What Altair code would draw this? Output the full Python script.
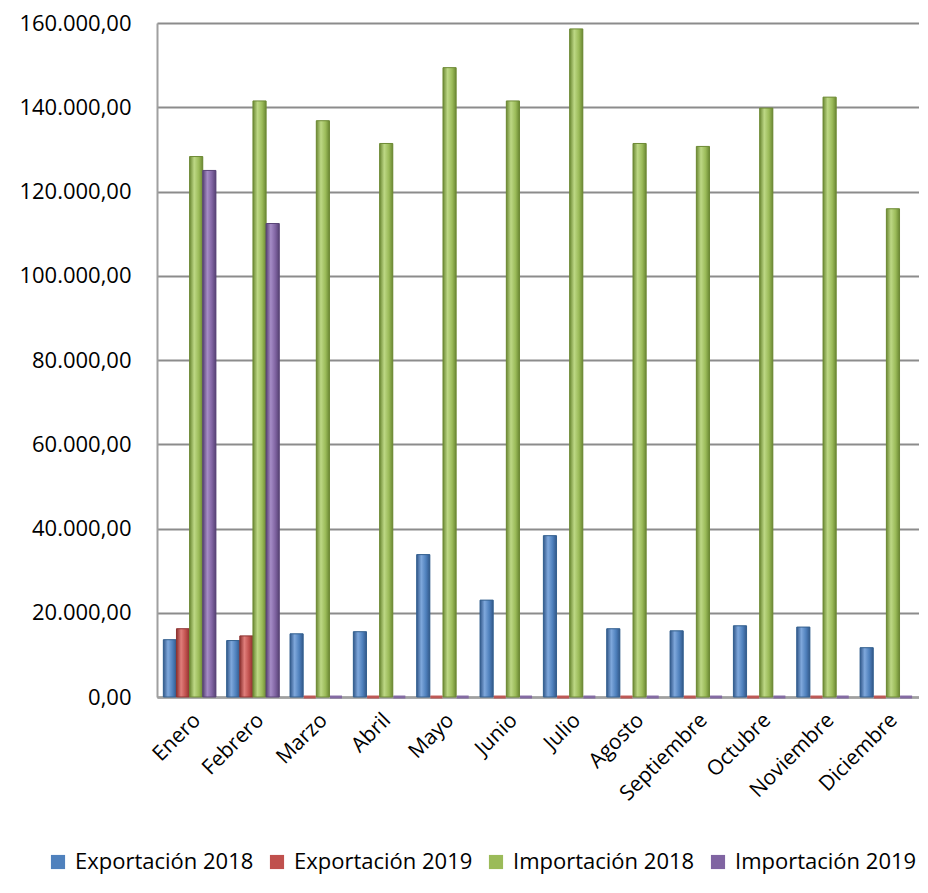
import altair as alt
import pandas as pd

months = ["Enero", "Febrero", "Marzo", "Abril", "Mayo", "Junio", "Julio",
          "Agosto", "Septiembre", "Octubre", "Noviembre", "Diciembre"]
series = ["Exportación 2018", "Exportación 2019", "Importación 2018", "Importación 2019"]

exp2018 = [13600, 13400, 15000, 15500, 33800, 23000, 38300, 16200, 15700, 16900, 16600, 11700]
exp2019 = [16200, 14500, 0, 0, 0, 0, 0, 0, 0, 0, 0, 0]
imp2018 = [128300, 141500, 136800, 131400, 149400, 141500, 158600, 131400, 130700, 139800, 142400, 115900]
imp2019 = [125000, 112400, 0, 0, 0, 0, 0, 0, 0, 0, 0, 0]

colors = ["#4F81BD", "#C0504D", "#9BBB59", "#8064A2"]
strokes = ["#35618F", "#8E3533", "#6E8A36", "#5A4578"]
lights = ["#7FA8DC", "#E07E7B", "#BDD885", "#A58CC6"]
darks = ["#32588A", "#8A302E", "#6B8833", "#574274"]

rows = []
for s, vals in zip(series, [exp2018, exp2019, imp2018, imp2019]):
    for m, v in zip(months, vals):
        rows.append({"mes": m, "serie": s, "valor": v})
df = pd.DataFrame(rows)

FONT = "Open Sans"

x_enc = alt.X(
    "mes:N", sort=months, title=None,
    scale=alt.Scale(paddingInner=0.17, paddingOuter=0.1),
    axis=alt.Axis(labelAngle=-45, labelFontSize=21, labelColor="black", labelFont=FONT,
                  ticks=False, domainColor="#A0A0A0", domainWidth=2.5, labelPadding=12,
                  labelAlign="right", labelBaseline="top"),
)
xo_enc = alt.XOffset("serie:N", sort=series, scale=alt.Scale(domain=series, paddingInner=0.0))
y_enc = alt.Y(
    "valor:Q", title=None,
    scale=alt.Scale(domain=[0, 160000]),
    axis=alt.Axis(values=[0, 20000, 40000, 60000, 80000, 100000, 120000, 140000, 160000],
                  labelExpr="replace(replace(replace(format(datum.value, ',.2f'), ',', '#'), '.', ','), '#', '.')",
                  labelFontSize=22, labelColor="black", labelFont=FONT, labelPadding=26,
                  ticks=False, domainColor="#A0A0A0", domainWidth=2,
                  gridColor="#8C8C8C", gridWidth=2, minExtent=149, maxExtent=149),
)
color_enc = alt.Color(
    "serie:N", sort=series, scale=alt.Scale(domain=series, range=colors),
    legend=alt.Legend(orient="none", legendX=-110, legendY=828,
                      direction="horizontal", title=None,
                      symbolType="square", symbolSize=200, symbolStrokeWidth=0,
                      labelFontSize=22, labelFont=FONT, labelColor="black",
                      labelLimit=400, columnPadding=12, labelOffset=6),
)

base_bars = alt.Chart(df).mark_bar().encode(
    x=x_enc, xOffset=xo_enc, y=y_enc, color=color_enc
)

layers = [base_bars]
for s, c, st, lt, dk in zip(series, colors, strokes, lights, darks):
    grad = alt.Gradient(
        gradient="linear", x1=0, x2=1, y1=0, y2=0,
        stops=[alt.GradientStop(color=dk, offset=0),
               alt.GradientStop(color=lt, offset=0.35),
               alt.GradientStop(color=c, offset=0.7),
               alt.GradientStop(color=dk, offset=1)],
    )
    layers.append(
        alt.Chart(df).transform_filter(alt.datum.serie == s).transform_filter("datum.valor > 0")
        .mark_bar(fill=grad, stroke=st, strokeWidth=1)
        .encode(x=x_enc, xOffset=xo_enc, y=y_enc)
    )

zeros = alt.Chart(df).transform_filter("datum.valor == 0").mark_tick(
    thickness=3, size=12, opacity=0.9
).encode(
    x=x_enc, xOffset=xo_enc, y=y_enc, color=alt.Color("serie:N", sort=series, legend=None)
)
layers.append(zeros)

chart = alt.layer(*layers).properties(
    width=762, height=674,
    padding={"left": 0, "top": 4, "right": 0, "bottom": 6},
).configure_view(stroke=None).configure(font=FONT)

chart.save("out.html", embed_options={"renderer": "svg", "actions": False})
